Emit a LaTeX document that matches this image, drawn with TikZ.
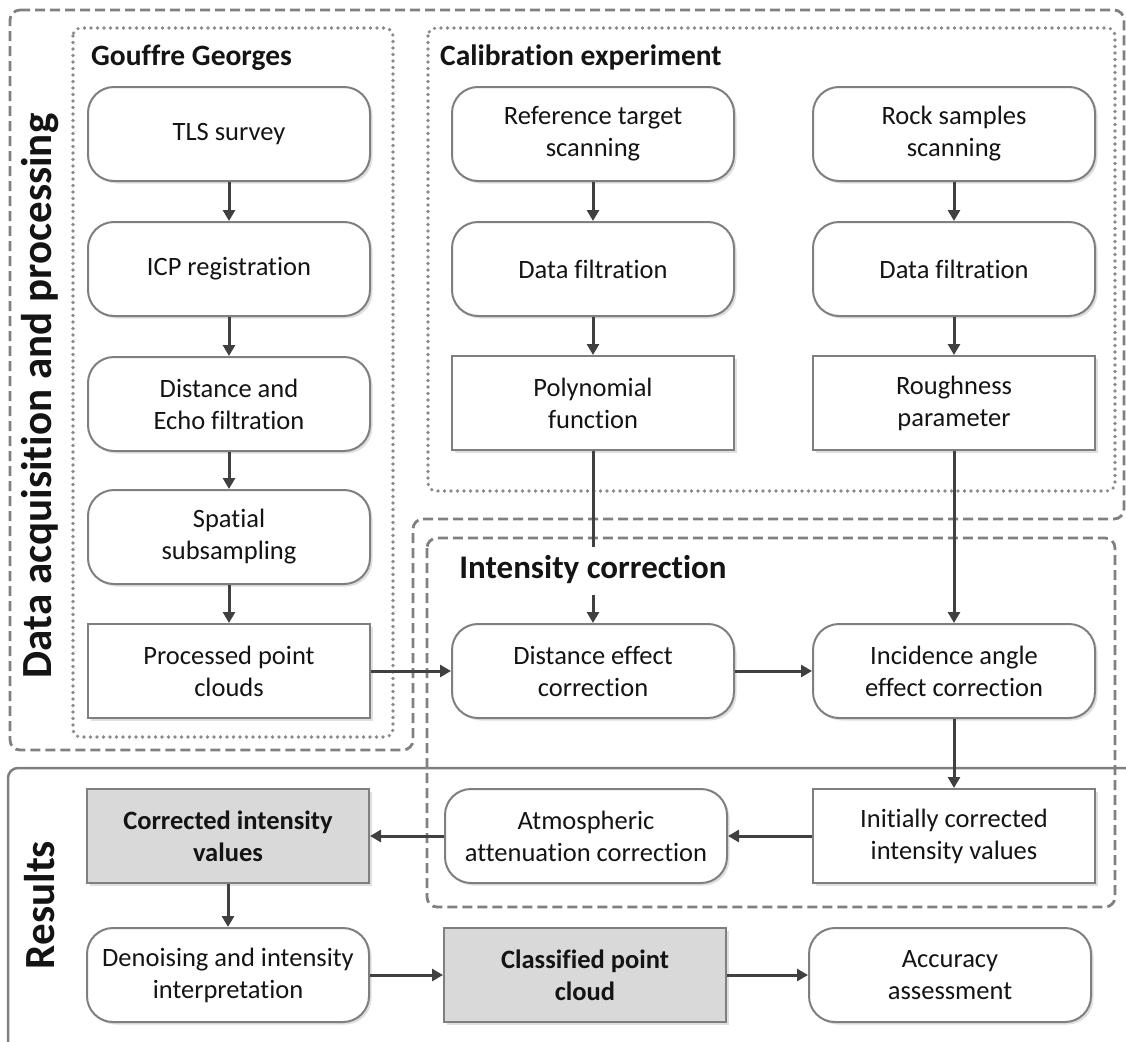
\documentclass[tikz,border=0pt]{standalone}
\usepackage{fontspec}
\setmainfont{Carlito}[Ligatures={NoCommon}]
\usetikzlibrary{arrows.meta,shadows}
\definecolor{bordergray}{HTML}{7F7F7F}
\definecolor{arrowgray}{HTML}{404040}
\definecolor{boxgray}{HTML}{D9D9D9}
\definecolor{regiongray}{HTML}{808080}
\definecolor{dotgray}{HTML}{8A8A8A}
\definecolor{txt}{HTML}{141414}
\begin{document}
\begin{tikzpicture}[x=1pt,y=-1pt,
 base/.style={draw=bordergray, line width=2pt, fill=white, minimum width=282pt, minimum height=94pt, inner sep=0pt, align=center, font=\fontsize{26.5}{32}\selectfont, text=txt, drop shadow={opacity=0.25, shadow xshift=2.5pt, shadow yshift=-2.5pt}},
 rbox/.style={base, rounded corners=26pt},
 sbox/.style={base},
 gbox/.style={base, fill=boxgray, font=\fontsize{26.5}{32}\selectfont\bfseries},
 conn/.style={draw=arrowgray, line width=3pt},
 arr/.style={conn, -{Triangle[length=11pt,width=12pt]}},
 dashedregion/.style={draw=regiongray, line width=2.8pt, dash pattern=on 10pt off 5pt, rounded corners=10pt},
 dottedregion/.style={draw=dotgray, line width=3.6pt, dash pattern=on 0pt off 6.5pt, line cap=round, rounded corners=8pt},
 hdr/.style={font=\fontsize{29.5}{33}\selectfont\bfseries, text=txt, anchor=base west, inner sep=0pt},
 side/.style={font=\fontsize{43}{46}\selectfont\bfseries, text=txt, rotate=90, inner sep=0pt}
]
\useasboundingbox (0,0) rectangle (1126,1041);

% regions
\draw[dashedregion] (10,10) -- (1124,10) -- (1124,519) -- (413,519) -- (413,750) -- (10,750) -- cycle;
\draw[dottedregion] (73,28) rectangle (393,737);
\draw[dottedregion] (428,28) rectangle (1115,491);
\draw[dashedregion] (427,538) rectangle (1115,907);
\begin{scope}
\clip (0,0) rectangle (1126,1041);
\draw[draw=bordergray, line width=2.5pt, rounded corners=10pt] (8,768) rectangle (1150,1060);
\end{scope}

% labels
\node[side] (lbldata) at (40,396) {Data acquisition and processing};
\node[side] (lblres) at (40,905) {Results};
\node[hdr] (hgouffre) at (91,65) {Gouffre Georges};
\node[hdr] (hcalib) at (440,65) {Calibration experiment};
\node[font=\fontsize{33}{36}\selectfont\bfseries, text=txt, anchor=base, text height=20pt, text depth=6pt, inner xsep=0pt, inner ysep=11pt] (ictitle) at (593,578) {Intensity correction};

% Gouffre Georges column
\node[rbox] (tls) at (229,134) {TLS survey};
\node[rbox] (icp) at (229,269) {ICP registration};
\node[rbox] (echo) at (229,404) {Distance and\\Echo filtration};
\node[rbox] (spatial) at (229,537) {Spatial\\subsampling};
\node[sbox] (processed) at (229,671) {Processed point\\clouds};

% Calibration columns
\node[rbox] (reftarget) at (593,134) {Reference target\\scanning};
\node[rbox] (filtA) at (593,269) {Data filtration};
\node[sbox] (poly) at (593,403) {Polynomial\\function};
\node[rbox] (rock) at (954,134) {Rock samples\\scanning};
\node[rbox] (filtB) at (954,269) {Data filtration};
\node[sbox] (rough) at (954,403) {Roughness\\parameter};

% Intensity correction
\node[rbox] (distcorr) at (593,671) {Distance effect\\correction};
\node[rbox] (incid) at (954,671) {Incidence angle\\effect correction};
\node[sbox] (initc) at (954,836) {Initially corrected\\intensity values};
\node[rbox] (atmos) at (586,836) {Atmospheric\\attenuation correction};

% Results
\node[gbox] (corr) at (228,836) {Corrected intensity\\values};
\node[rbox] (denoise) at (228,975) {Denoising and intensity\\interpretation};
\node[gbox] (classified) at (585,975) {Classified point\\cloud};
\node[rbox] (accuracy) at (950,975) {Accuracy\\assessment};

% connectors
\draw[arr] (tls) -- (icp);
\draw[arr] (icp) -- (echo);
\draw[arr] (echo) -- (spatial);
\draw[arr] (spatial) -- (processed);
\draw[arr] (reftarget) -- (filtA);
\draw[arr] (filtA) -- (poly);
\draw[arr] (rock) -- (filtB);
\draw[arr] (filtB) -- (rough);
\draw[conn] (poly.south) -- (ictitle.north);
\draw[arr] (ictitle.south) -- (distcorr.north);
\draw[arr] (rough) -- (incid);
\draw[arr] (processed) -- (distcorr);
\draw[arr] (distcorr) -- (incid);
\draw[arr] (incid) -- (initc);
\draw[arr] (initc) -- (atmos);
\draw[arr] (atmos) -- (corr);
\draw[arr] (corr) -- (denoise);
\draw[arr] (denoise) -- (classified);
\draw[arr] (classified) -- (accuracy);
\end{tikzpicture}
\end{document}
